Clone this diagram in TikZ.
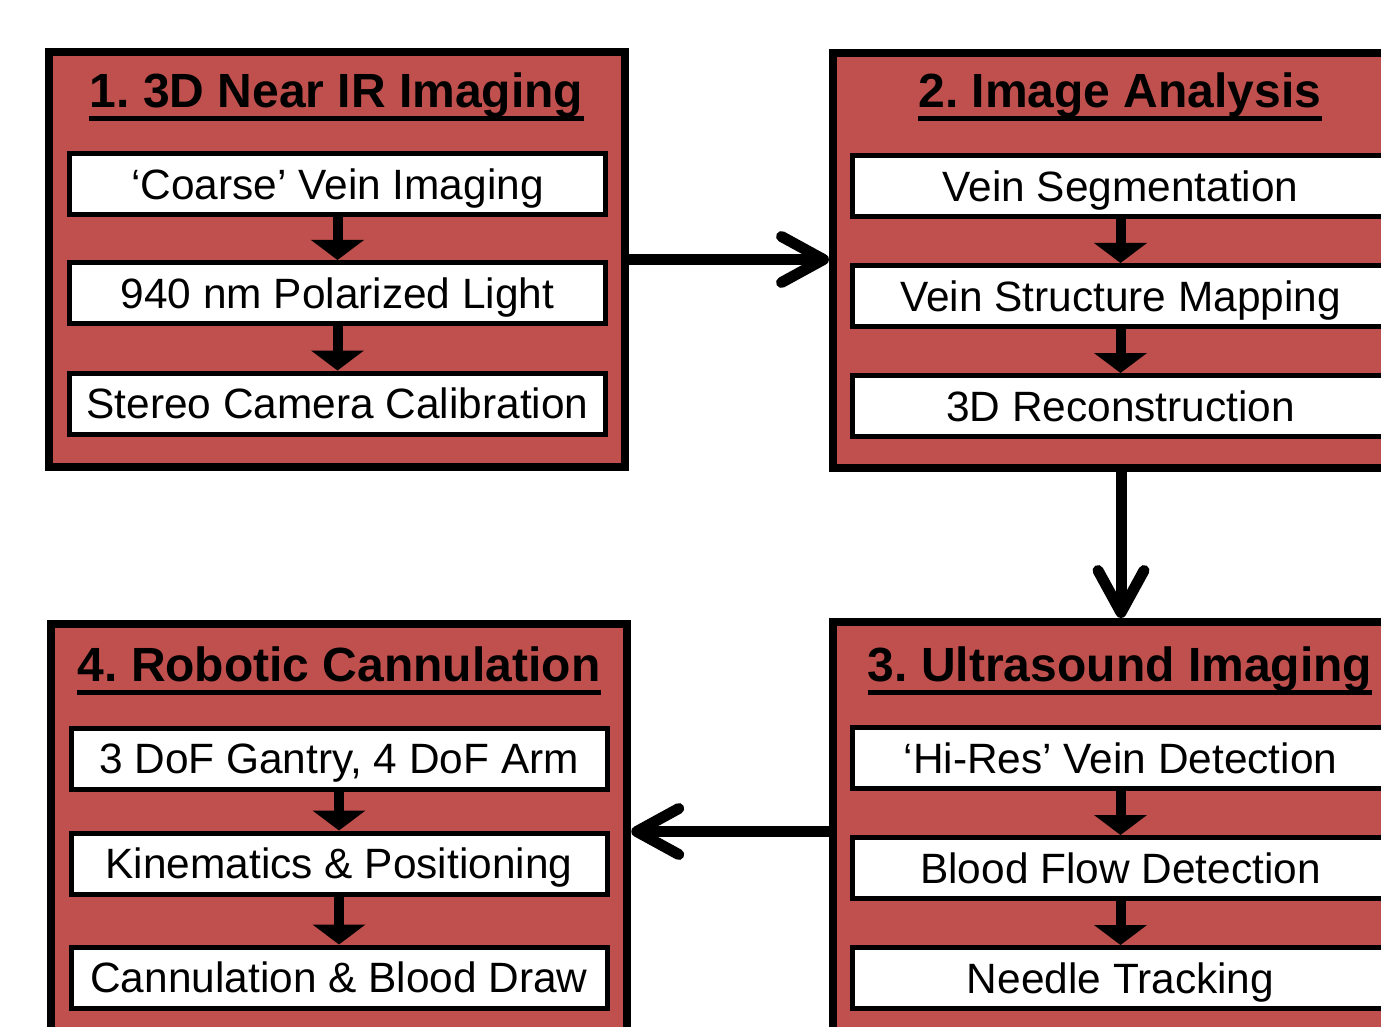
\documentclass[tikz,border=0pt]{standalone}
\usepackage{fontspec}
\setmainfont{Liberation Sans}
\usetikzlibrary{arrows.meta}
\definecolor{stagered}{HTML}{C0504D}
\frenchspacing

\tikzset{
  stagebox/.style={draw, line width=4pt, fill=stagered, minimum width=288pt, minimum height=207.5pt, inner sep=0pt},
  stepbox/.style={draw, line width=2.5pt, fill=white, minimum width=268pt, minimum height=30.5pt, inner sep=0pt,
    font=\fontsize{21.2}{25}\selectfont, text height=15.2pt, text depth=0pt},
  stagetitle/.style={inner sep=0pt, anchor=base, font=\bfseries\fontsize{24}{28}\selectfont},
  subarrow/.style={line width=5pt, -{Triangle[width=26pt,length=10pt]}},
  bigarrow/.style={line width=5.5pt, -{Straight Barb[round,length=21pt,width=23pt]}},
}

\begin{document}
\begin{tikzpicture}[x=0.5pt, y=-0.5pt]
  \clip (0,0) rectangle (1381,1027);
  \useasboundingbox (0,0) rectangle (1381,1027);
  % stages
  \node[stagebox] (b1) at (337,259.5) {};
  \node[stagebox] (b2) at (1121,260.5) {};
  \node[stagebox] (b3) at (1121,829.5) {};
  \node[stagebox] (b4) at (339.25,831.5) {};
  % titles
  \node[stagetitle] (t1) at (336.5,108) {1. 3D Near IR Imaging};
  \node[stagetitle] (t2) at (1120,108) {2. Image Analysis};
  \node[stagetitle] (t3) at (1120,681) {3. Ultrasound Imaging};
  \node[stagetitle] (t4) at (339,681) {4. Robotic Cannulation};
  \foreach \t in {t1,t2,t3,t4}
    \draw[line width=2.5pt] ([yshift=-5.5pt]\t.base west) -- ([yshift=-5.5pt]\t.base east);
  % steps of stage 1
  \node[stepbox] (s11) at (337.5,184.5) {`Coarse' Vein Imaging};
  \node[stepbox] (s12) at (337.5,293) {940 nm Polarized Light};
  \node[stepbox] (s13) at (337.5,403.5) {Stereo Camera Calibration};
  % steps of stage 2
  \node[stepbox] (s21) at (1120.5,186) {Vein Segmentation};
  \node[stepbox] (s22) at (1120.5,296) {Vein Structure Mapping};
  \node[stepbox] (s23) at (1120.5,406) {3D Reconstruction};
  % steps of stage 3
  \node[stepbox] (s31) at (1120.5,758) {`Hi-Res' Vein Detection};
  \node[stepbox] (s32) at (1120.5,868) {Blood Flow Detection};
  \node[stepbox] (s33) at (1120.5,978) {Needle Tracking};
  % steps of stage 4
  \node[stepbox] (s41) at (339,758.5) {3 DoF Gantry, 4 DoF Arm};
  \node[stepbox] (s42) at (339,863.5) {Kinematics \& Positioning};
  \node[stepbox] (s43) at (339,977.5) {Cannulation \& Blood Draw};
  % arrows inside the stages
  \draw[subarrow] (s11) -- (s12);
  \draw[subarrow] (s12) -- (s13);
  \draw[subarrow] (s21) -- (s22);
  \draw[subarrow] (s22) -- (s23);
  \draw[subarrow] (s31) -- (s32);
  \draw[subarrow] (s32) -- (s33);
  \draw[subarrow] (s41) -- (s42);
  \draw[subarrow] (s42) -- (s43);
  % arrows between the stages
  \draw[bigarrow] (b1.east) -- (b1.east -| b2.west);
  \draw[bigarrow] (b2.south) -- (b2.south |- b3.north);
  \draw[bigarrow] (b3.west |- b4.east) -- (b4.east);
\end{tikzpicture}
\end{document}
